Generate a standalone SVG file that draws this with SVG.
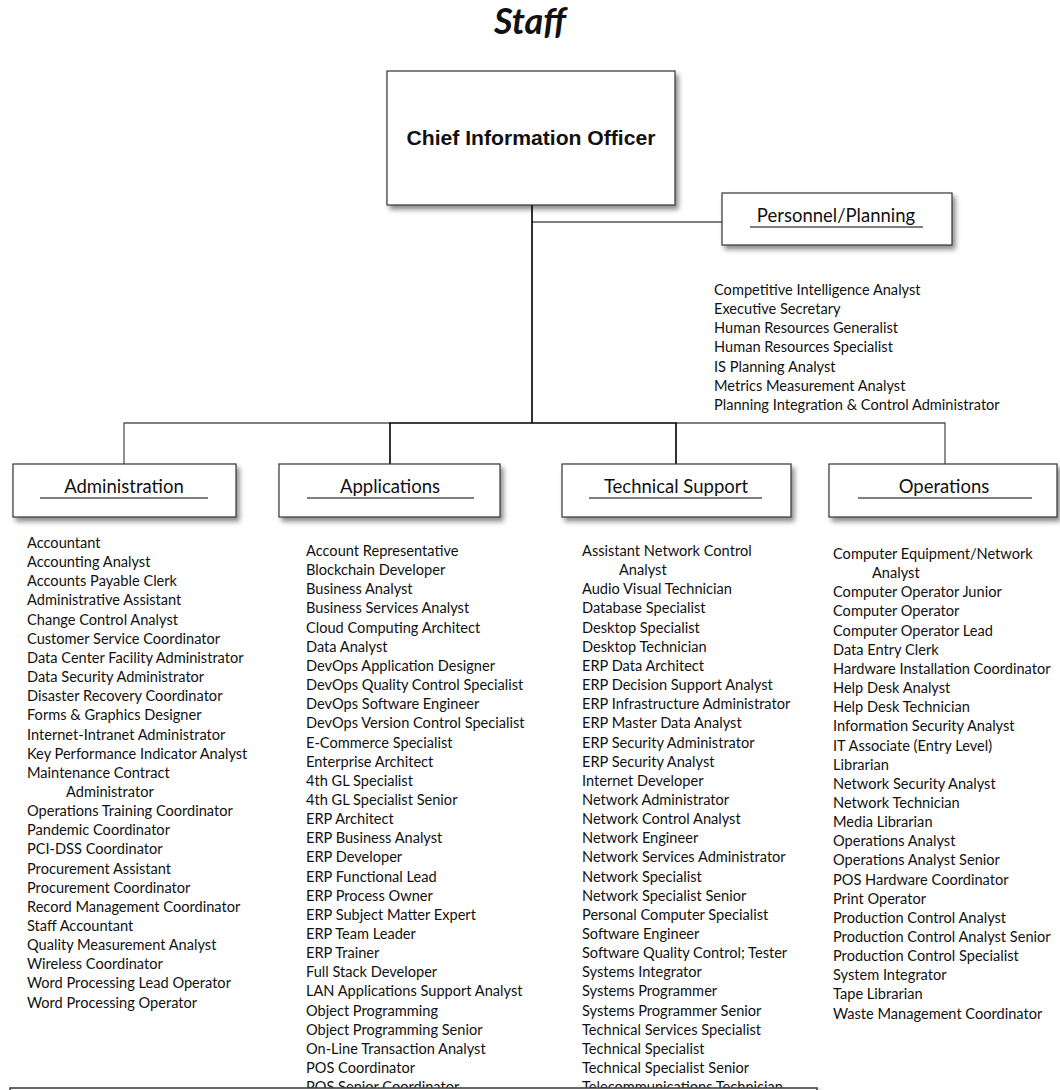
<svg xmlns="http://www.w3.org/2000/svg" width="1060" height="1090" viewBox="0 0 1060 1090">
<defs>
<filter id="sh" x="-10%" y="-10%" width="125%" height="140%">
<feDropShadow dx="3" dy="4" stdDeviation="2.5" flood-color="#000" flood-opacity="0.45"/>
</filter>
<style>
.box{fill:#fff;stroke:#333;stroke-width:1.2;filter:url(#sh)}
.hd{font-family:Lato,"Liberation Sans",sans-serif;font-size:18.5px;fill:#111;text-anchor:middle}
.ul{stroke:#555;stroke-width:1.3}
.ls{font-family:Lato,"Liberation Sans",sans-serif;font-size:14.6px;fill:#111}
.c1{fill:none;stroke:#000;stroke-width:1.6}
.c2{fill:none;stroke:#555;stroke-width:1.3}
</style>
</defs>
<rect width="1060" height="1090" fill="#fff"/>
<text x="530" y="34" font-family="Lato,'Liberation Sans',sans-serif" font-size="36" font-weight="bold" font-style="italic" text-anchor="middle" fill="#111">Staff</text>

<g id="connectors">
<path class="c2" d="M532 222H722"/>
<path class="c2" d="M124 464V423H390M676 423H945V464"/>
<path class="c1" d="M532 205V423M390 464V423H676V464"/>
</g>

<g id="cio">
<rect class="box" x="387" y="71" width="288" height="134"/>
<text x="531" y="145" font-family="'Liberation Sans',Arial,sans-serif" font-size="20" font-weight="bold" text-anchor="middle" textLength="249" lengthAdjust="spacingAndGlyphs" fill="#111">Chief Information Officer</text>
</g>

<g id="personnel">
<rect class="box" x="722" y="193" width="230" height="52"/>
<text class="hd" x="836" y="222">Personnel/Planning</text>
<line class="ul" x1="750" y1="227" x2="923" y2="227" stroke="#222"/>
<text class="ls" x="714" y="295">
<tspan x="714" dy="0">Competitive Intelligence Analyst</tspan>
<tspan x="714" dy="19.15">Executive Secretary</tspan>
<tspan x="714" dy="19.15">Human Resources Generalist</tspan>
<tspan x="714" dy="19.15">Human Resources Specialist</tspan>
<tspan x="714" dy="19.15">IS Planning Analyst</tspan>
<tspan x="714" dy="19.15">Metrics Measurement Analyst</tspan>
<tspan x="714" dy="19.15">Planning Integration &amp; Control Administrator</tspan>
</text>
</g>

<g id="administration">
<rect class="box" x="13" y="464" width="223" height="53"/>
<text class="hd" x="124" y="493">Administration</text>
<line class="ul" x1="40" y1="498" x2="208" y2="498"/>
<text class="ls" x="27" y="548">
<tspan x="27" dy="0">Accountant</tspan>
<tspan x="27" dy="19.15">Accounting Analyst</tspan>
<tspan x="27" dy="19.15">Accounts Payable Clerk</tspan>
<tspan x="27" dy="19.15">Administrative Assistant</tspan>
<tspan x="27" dy="19.15">Change Control Analyst</tspan>
<tspan x="27" dy="19.15">Customer Service Coordinator</tspan>
<tspan x="27" dy="19.15">Data Center Facility Administrator</tspan>
<tspan x="27" dy="19.15">Data Security Administrator</tspan>
<tspan x="27" dy="19.15">Disaster Recovery Coordinator</tspan>
<tspan x="27" dy="19.15">Forms &amp; Graphics Designer</tspan>
<tspan x="27" dy="19.15">Internet-Intranet Administrator</tspan>
<tspan x="27" dy="19.15">Key Performance Indicator Analyst</tspan>
<tspan x="27" dy="19.15">Maintenance Contract</tspan>
<tspan x="66" dy="19.15">Administrator</tspan>
<tspan x="27" dy="19.15">Operations Training Coordinator</tspan>
<tspan x="27" dy="19.15">Pandemic Coordinator</tspan>
<tspan x="27" dy="19.15">PCI-DSS Coordinator</tspan>
<tspan x="27" dy="19.15">Procurement Assistant</tspan>
<tspan x="27" dy="19.15">Procurement Coordinator</tspan>
<tspan x="27" dy="19.15">Record Management Coordinator</tspan>
<tspan x="27" dy="19.15">Staff Accountant</tspan>
<tspan x="27" dy="19.15">Quality Measurement Analyst</tspan>
<tspan x="27" dy="19.15">Wireless Coordinator</tspan>
<tspan x="27" dy="19.15">Word Processing Lead Operator</tspan>
<tspan x="27" dy="19.15">Word Processing Operator</tspan>
</text>
</g>

<g id="applications">
<rect class="box" x="279" y="464" width="221" height="53"/>
<text class="hd" x="390" y="493">Applications</text>
<line class="ul" x1="307" y1="498" x2="474" y2="498"/>
<text class="ls" x="306" y="556">
<tspan x="306" dy="0">Account Representative</tspan>
<tspan x="306" dy="19.15">Blockchain Developer</tspan>
<tspan x="306" dy="19.15">Business Analyst</tspan>
<tspan x="306" dy="19.15">Business Services Analyst</tspan>
<tspan x="306" dy="19.15">Cloud Computing Architect</tspan>
<tspan x="306" dy="19.15">Data Analyst</tspan>
<tspan x="306" dy="19.15">DevOps Application Designer</tspan>
<tspan x="306" dy="19.15">DevOps Quality Control Specialist</tspan>
<tspan x="306" dy="19.15">DevOps Software Engineer</tspan>
<tspan x="306" dy="19.15">DevOps Version Control Specialist</tspan>
<tspan x="306" dy="19.15">E-Commerce Specialist</tspan>
<tspan x="306" dy="19.15">Enterprise Architect</tspan>
<tspan x="306" dy="19.15">4th GL Specialist</tspan>
<tspan x="306" dy="19.15">4th GL Specialist Senior</tspan>
<tspan x="306" dy="19.15">ERP Architect</tspan>
<tspan x="306" dy="19.15">ERP Business Analyst</tspan>
<tspan x="306" dy="19.15">ERP Developer</tspan>
<tspan x="306" dy="19.15">ERP Functional Lead</tspan>
<tspan x="306" dy="19.15">ERP Process Owner</tspan>
<tspan x="306" dy="19.15">ERP Subject Matter Expert</tspan>
<tspan x="306" dy="19.15">ERP Team Leader</tspan>
<tspan x="306" dy="19.15">ERP Trainer</tspan>
<tspan x="306" dy="19.15">Full Stack Developer</tspan>
<tspan x="306" dy="19.15">LAN Applications Support Analyst</tspan>
<tspan x="306" dy="19.15">Object Programming</tspan>
<tspan x="306" dy="19.15">Object Programming Senior</tspan>
<tspan x="306" dy="19.15">On-Line Transaction Analyst</tspan>
<tspan x="306" dy="19.15">POS Coordinator</tspan>
<tspan x="306" dy="19.15">POS Senior Coordinator</tspan>
</text>
</g>

<g id="technical-support">
<rect class="box" x="562" y="464" width="229" height="53"/>
<text class="hd" x="676" y="493">Technical Support</text>
<line class="ul" x1="589" y1="498" x2="762" y2="498"/>
<text class="ls" x="582" y="556">
<tspan x="582" dy="0">Assistant Network Control</tspan>
<tspan x="619" dy="19.15">Analyst</tspan>
<tspan x="582" dy="19.15">Audio Visual Technician</tspan>
<tspan x="582" dy="19.15">Database Specialist</tspan>
<tspan x="582" dy="19.15">Desktop Specialist</tspan>
<tspan x="582" dy="19.15">Desktop Technician</tspan>
<tspan x="582" dy="19.15">ERP Data Architect</tspan>
<tspan x="582" dy="19.15">ERP Decision Support Analyst</tspan>
<tspan x="582" dy="19.15">ERP Infrastructure Administrator</tspan>
<tspan x="582" dy="19.15">ERP Master Data Analyst</tspan>
<tspan x="582" dy="19.15">ERP Security Administrator</tspan>
<tspan x="582" dy="19.15">ERP Security Analyst</tspan>
<tspan x="582" dy="19.15">Internet Developer</tspan>
<tspan x="582" dy="19.15">Network Administrator</tspan>
<tspan x="582" dy="19.15">Network Control  Analyst</tspan>
<tspan x="582" dy="19.15">Network Engineer</tspan>
<tspan x="582" dy="19.15">Network Services  Administrator</tspan>
<tspan x="582" dy="19.15">Network Specialist</tspan>
<tspan x="582" dy="19.15">Network Specialist Senior</tspan>
<tspan x="582" dy="19.15">Personal Computer Specialist</tspan>
<tspan x="582" dy="19.15">Software Engineer</tspan>
<tspan x="582" dy="19.15">Software Quality Control; Tester</tspan>
<tspan x="582" dy="19.15">Systems Integrator</tspan>
<tspan x="582" dy="19.15">Systems Programmer</tspan>
<tspan x="582" dy="19.15">Systems Programmer Senior</tspan>
<tspan x="582" dy="19.15">Technical Services Specialist</tspan>
<tspan x="582" dy="19.15">Technical Specialist</tspan>
<tspan x="582" dy="19.15">Technical Specialist Senior</tspan>
<tspan x="582" dy="19.15">Telecommunications Technician</tspan>
</text>
</g>

<g id="operations">
<rect class="box" x="829" y="464" width="228" height="53"/>
<text class="hd" x="944" y="493">Operations</text>
<line class="ul" x1="858" y1="498" x2="1032" y2="498"/>
<text class="ls" x="833" y="559">
<tspan x="833" dy="0">Computer Equipment/Network</tspan>
<tspan x="872" dy="19.15">Analyst</tspan>
<tspan x="833" dy="19.15">Computer Operator Junior</tspan>
<tspan x="833" dy="19.15">Computer Operator</tspan>
<tspan x="833" dy="19.15">Computer Operator Lead</tspan>
<tspan x="833" dy="19.15">Data Entry Clerk</tspan>
<tspan x="833" dy="19.15">Hardware Installation Coordinator</tspan>
<tspan x="833" dy="19.15">Help Desk Analyst</tspan>
<tspan x="833" dy="19.15">Help Desk Technician</tspan>
<tspan x="833" dy="19.15">Information Security Analyst</tspan>
<tspan x="833" dy="19.15">IT Associate (Entry Level)</tspan>
<tspan x="833" dy="19.15">Librarian</tspan>
<tspan x="833" dy="19.15">Network Security Analyst</tspan>
<tspan x="833" dy="19.15">Network Technician</tspan>
<tspan x="833" dy="19.15">Media Librarian</tspan>
<tspan x="833" dy="19.15">Operations Analyst</tspan>
<tspan x="833" dy="19.15">Operations Analyst Senior</tspan>
<tspan x="833" dy="19.15">POS Hardware Coordinator</tspan>
<tspan x="833" dy="19.15">Print Operator</tspan>
<tspan x="833" dy="19.15">Production Control Analyst</tspan>
<tspan x="833" dy="19.15">Production Control Analyst Senior</tspan>
<tspan x="833" dy="19.15">Production Control Specialist</tspan>
<tspan x="833" dy="19.15">System Integrator</tspan>
<tspan x="833" dy="19.15">Tape Librarian</tspan>
<tspan x="833" dy="19.15">Waste Management Coordinator</tspan>
</text>
</g>

<g id="bottom-box">
<rect x="10" y="1088" width="807" height="40" fill="#fff" stroke="#444" stroke-width="1.6" filter="url(#sh)"/>
</g>
</svg>
